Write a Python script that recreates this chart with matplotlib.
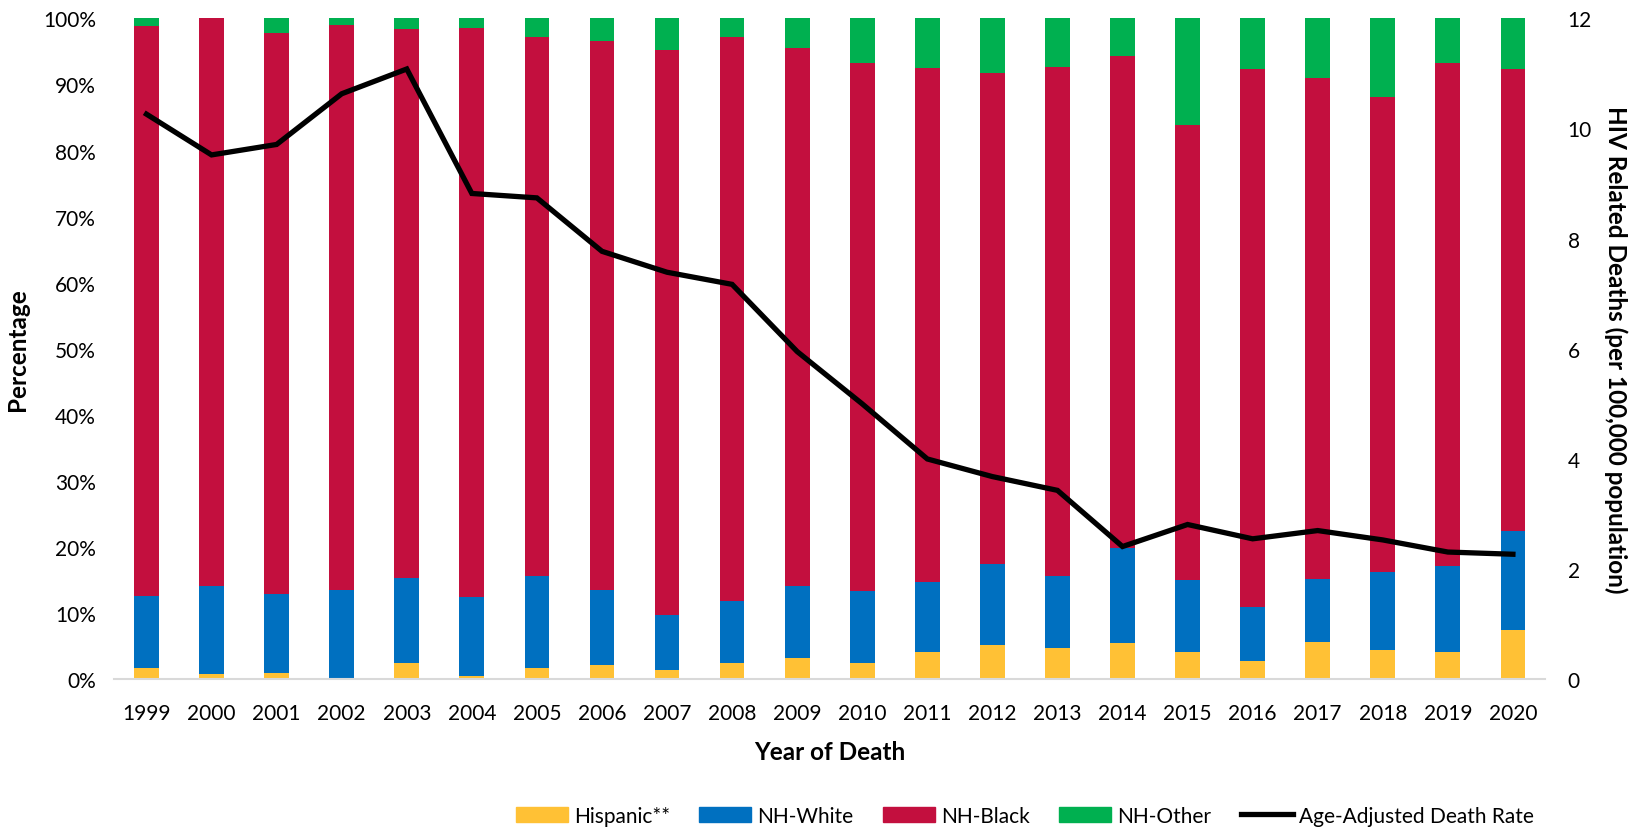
import numpy as np
import matplotlib
matplotlib.use("Agg")
import matplotlib.pyplot as plt
from matplotlib.ticker import PercentFormatter, MultipleLocator
from matplotlib.patches import Patch
from matplotlib.lines import Line2D

plt.rcParams["font.family"] = ["Lato", "DejaVu Sans"]

# Data
years = [str(y) for y in range(1999, 2021)]
hispanic = [1.7, 0.8, 1.0, 0.1, 2.4, 0.5, 1.7, 2.2, 1.4, 2.4, 3.2, 2.4,
            4.1, 5.2, 4.8, 5.5, 4.1, 2.8, 5.6, 4.4, 4.1, 7.4]
nh_white = [10.9, 13.3, 11.9, 13.4, 12.9, 11.9, 14.0, 11.3, 8.4, 9.5, 10.9, 11.0,
            10.6, 12.3, 10.9, 14.3, 10.9, 8.1, 9.5, 11.8, 13.0, 15.1]
nh_black = [86.3, 85.9, 84.9, 85.5, 83.1, 86.2, 81.5, 83.0, 85.4, 85.3, 81.4, 79.9,
            77.8, 74.3, 77.0, 74.5, 68.8, 81.5, 75.9, 71.9, 76.1, 69.9]
nh_other = [1.1, 0.0, 2.2, 1.0, 1.6, 1.4, 2.8, 3.5, 4.8, 2.8, 4.5, 6.7,
            7.5, 8.2, 7.3, 5.7, 16.2, 7.6, 9.0, 11.9, 6.8, 7.6]
death_rate = [10.26, 9.52, 9.71, 10.63, 11.08, 8.82, 8.74, 7.77, 7.39, 7.17, 5.95, 5.0,
              4.0, 3.68, 3.43, 2.41, 2.81, 2.55, 2.70, 2.53, 2.31, 2.27]

c_hisp = "#FFC135"
c_white = "#0070C0"
c_black = "#C30F3E"
c_other = "#00B050"

fig = plt.figure(figsize=(16.42, 8.29), dpi=100)
ax = fig.add_axes([0.0694, 0.1794, 0.8718, 0.7973])

x = np.arange(len(years))
w = 0.38
b1 = np.array(hispanic)
b2 = b1 + np.array(nh_white)
b3 = b2 + np.array(nh_black)
ax.bar(x, hispanic, w, color=c_hisp)
ax.bar(x, nh_white, w, bottom=b1, color=c_white)
ax.bar(x, nh_black, w, bottom=b2, color=c_black)
ax.bar(x, nh_other, w, bottom=b3, color=c_other)

ax.set_xlim(-0.5, len(years) - 0.5)
ax.set_ylim(0, 100)
ax.yaxis.set_major_locator(MultipleLocator(10))
ax.yaxis.set_major_formatter(PercentFormatter(decimals=0))
ax.set_xticks(x)
ax.set_xticklabels(years)
ax.tick_params(axis="both", length=0, labelsize=15)
ax.tick_params(axis="y", pad=13)
ax.tick_params(axis="x", pad=17)
for s in ["top", "left", "right"]:
    ax.spines[s].set_visible(False)
ax.spines["bottom"].set_color("#d9d9d9")
ax.spines["bottom"].set_linewidth(1.5)

ax.set_xlabel("Year of Death", fontsize=17.5, fontweight="bold", labelpad=12)
ax.set_ylabel("Percentage", fontsize=17.5, fontweight="bold", labelpad=10)

ax2 = ax.twinx()
ax2.plot(x, death_rate, color="black", lw=3.8, solid_joinstyle="miter")
ax2.set_ylim(0, 12)
ax2.yaxis.set_major_locator(MultipleLocator(2))
ax2.tick_params(axis="y", length=0, labelsize=15, pad=16)
for s in ["top", "left", "right", "bottom"]:
    ax2.spines[s].set_visible(False)
ax2.set_ylabel("HIV Related Deaths (per 100,000 population)", fontsize=17.5,
               fontweight="bold", rotation=270, labelpad=26)

handles = [
    Patch(color=c_hisp, label="Hispanic**"),
    Patch(color=c_white, label="NH-White"),
    Patch(color=c_black, label="NH-Black"),
    Patch(color=c_other, label="NH-Other"),
    Line2D([0], [0], color="black", lw=3.8, label="Age-Adjusted Death Rate"),
]
fig.legend(handles=handles, loc="center", bbox_to_anchor=(0.624, 0.015), ncol=5,
           frameon=False, fontsize=15, handlelength=2.5, handleheight=0.7,
           handletextpad=0.3, columnspacing=1.4)

fig.savefig("out.png", dpi=100)
